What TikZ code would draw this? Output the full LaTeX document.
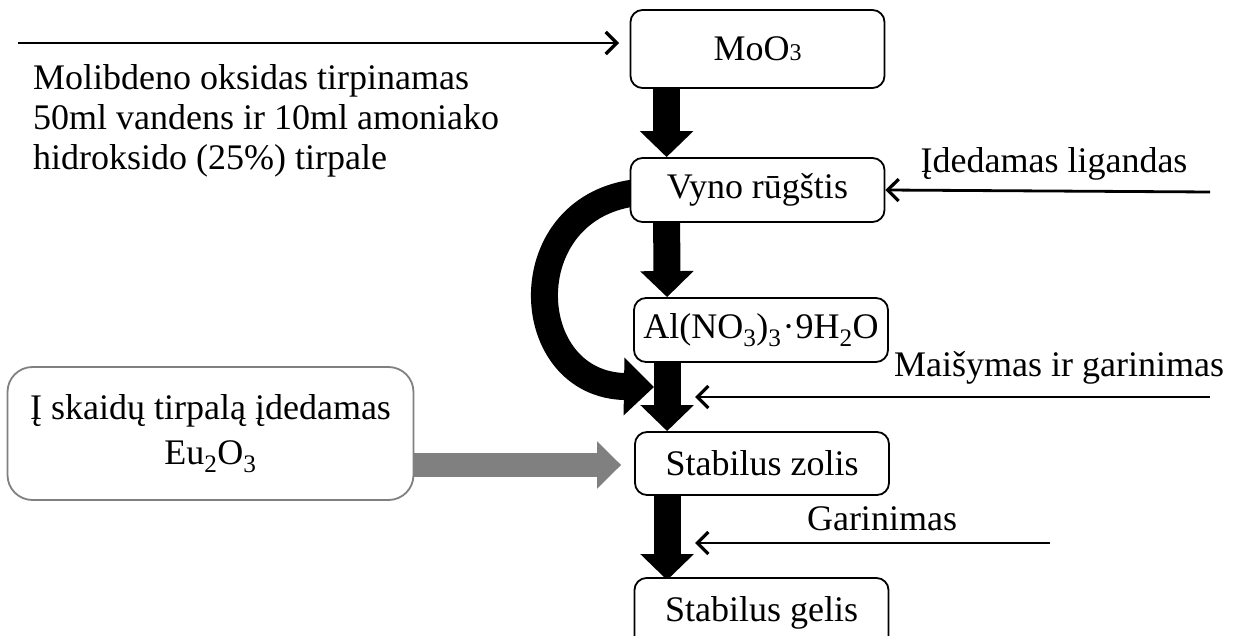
\documentclass[tikz,border=0pt]{standalone}
\usepackage{fontspec}
\setmainfont{Liberation Serif}
\usetikzlibrary{arrows.meta,calc,backgrounds}
\begin{document}
\begin{tikzpicture}[x=1pt,y=-1pt,
  every node/.style={font=\fontsize{36}{40}\selectfont},
  box/.style={draw,line width=1.8pt,rounded corners=12pt,fill=white,
    minimum width=254pt,inner sep=0pt,align=center},
  graybox/.style={draw=black!50,line width=1.8pt,rounded corners=25pt,fill=white,
    minimum width=406pt,minimum height=133pt,inner sep=0pt,align=center},
  bigarrow/.style={line width=27pt,-{Triangle[length=26pt,width=52pt]}},
  curvearrow/.style={line width=27pt,-{Triangle[length=30pt,width=56pt]}},
  grayarrow/.style={draw=black!50,line width=24pt,-{Triangle[length=24pt,width=46pt]}},
  thinarrow/.style={line width=2.8pt,-{Straight Barb[length=11pt,width=22pt,line width=3.2pt]}},
  lbl/.style={anchor=base}]
\useasboundingbox (0,0) rectangle (1243,636);

\node[box,minimum height=78pt] (mo) at (757.5,49) {MoO{\fontsize{24}{24}\selectfont 3}};
\node[box,minimum height=64pt] (vy) at (757.5,190) {Vyno rūgštis};
\node[box,minimum height=64pt] (al) at (761,330)
  {Al(NO\textsubscript{3})\textsubscript{3}\hspace{1pt}·\hspace{1pt}9H\textsubscript{2}O};
\node[box,minimum height=63pt] (zo) at (762,463.5) {Stabilus zolis};
\node[box,minimum height=70pt] (ge) at (761.5,613) {Stabilus gelis};

\node[graybox] (lb) at (210.5,433.5)
  {Į skaidų tirpalą įdedamas\\[5pt]Eu\textsubscript{2}O\textsubscript{3}};

\node[anchor=north west,align=left,inner sep=0pt] (txt) at (33,64)
  {Molibdeno oksidas tirpinamas\\50ml vandens ir 10ml amoniako\\hidroksido (25\%) tirpale};

\node[lbl] (l1) at (1054,173) {Įdedamas ligandas};
\node[lbl] (l2) at (1059,377) {Maišymas ir garinimas};
\node[lbl] (l3) at (882,530) {Garinimas};

\coordinate (s0) at (18,43);
\coordinate (t0) at (619,43);
\coordinate (s1) at (1210,192);
\coordinate (s2) at (1210,397);
\coordinate (t2) at (695,397);
\coordinate (s3) at (1050,543);
\coordinate (t3) at (695,543);

\begin{scope}[on background layer]
  \draw[bigarrow] ([xshift=37pt,yshift=2pt]mo.south west) -- ([xshift=37pt]vy.north west);
  \draw[bigarrow] ([xshift=37pt,yshift=2pt]vy.south west) -- ([xshift=34pt]al.north west);
  \draw[bigarrow] ([xshift=34pt,yshift=2pt]al.south west) -- ([xshift=33pt]zo.north west);
  \draw[bigarrow] ([xshift=33pt,yshift=2pt]zo.south west) -- ([xshift=33.5pt,yshift=-3pt]ge.north west);
  \draw[curvearrow] ([xshift=4pt,yshift=-3pt]vy.west) .. controls (512,210) and (520,385) .. (654,387);
  \draw[grayarrow] ([yshift=-31.5pt]lb.east) -- ([xshift=-13pt,yshift=-1.5pt]zo.west);
\end{scope}

\draw[thinarrow] (s0) -- (t0);
\draw[thinarrow] (s1) -- (vy.east);
\draw[thinarrow] (s2) -- (t2);
\draw[thinarrow] (s3) -- (t3);
\end{tikzpicture}
\end{document}
